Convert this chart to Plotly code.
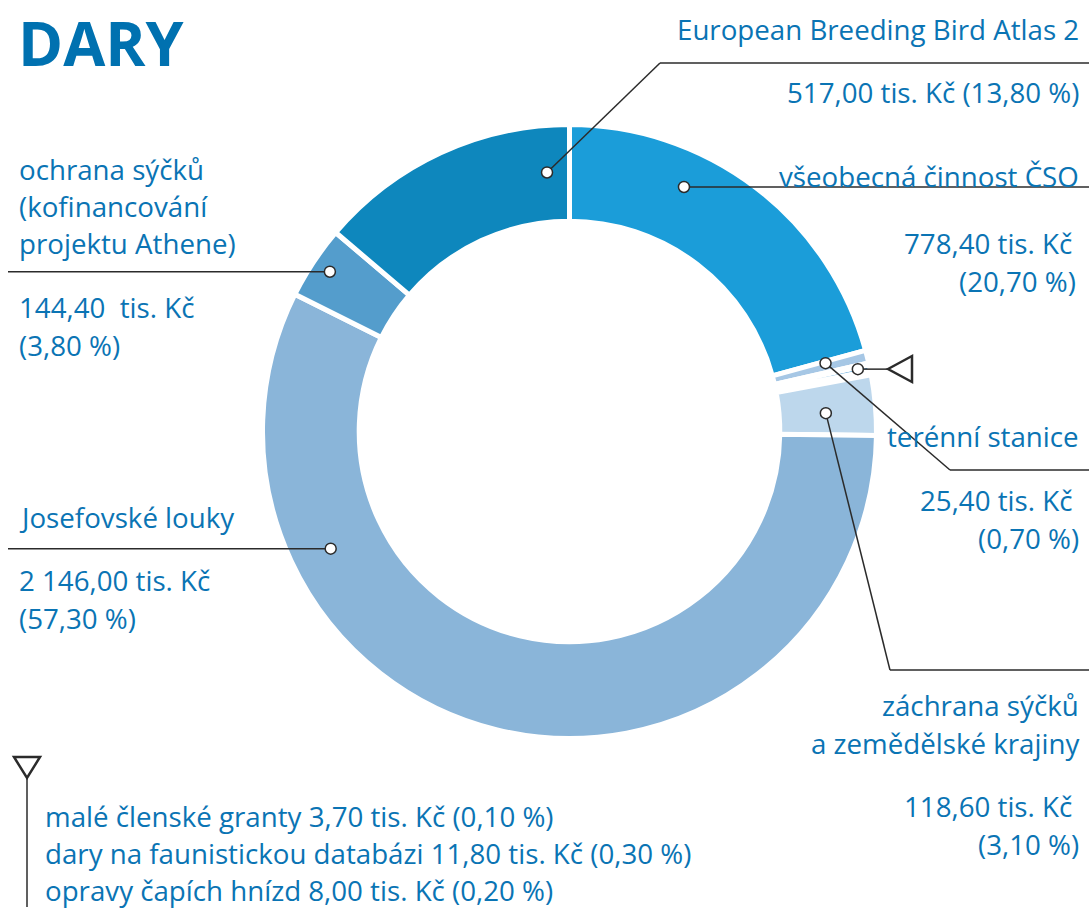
import math
import plotly.graph_objects as go

# ---------------- data ----------------
labels = [
    "všeobecná činnost ČSO",
    "terénní stanice",
    "malé členské granty",
    "dary na faunistickou databázi",
    "opravy čapích hnízd",
    "záchrana sýčků a zemědělské krajiny",
    "Josefovské louky",
    "ochrana sýčků (kofinancování projektu Athene)",
    "European Breeding Bird Atlas 2",
]
values = [778.40, 25.40, 3.70, 11.80, 8.00, 118.60, 2146.00, 144.40, 517.00]  # tis. Kč
percents = [20.70, 0.70, 0.10, 0.30, 0.20, 3.10, 57.30, 3.80, 13.80]
title_text = "DARY"
unit = "tis. Kč"

# ---------------- style ----------------
W, H = 1089, 909
CX, CY, R = 569.5, 431.5, 307.0
HOLE = 0.685
colors = ["#1b9dd9", "#a6c7e5", "#4f9fd5", "#4f9fd5", "#4f9fd5",
          "#bdd7ec", "#8ab5d9", "#549dcc", "#0e87bd"]
TXT = "#0a74b4"
LINE = "#2b2b2b"
FONT = "Open Sans"
FS = 27.7
DY = -2  # vertical text nudge


def px(x):
    return x / W


def py(y):
    return 1 - y / H


def czk(v):
    s = f"{v:,.2f}"
    return s.replace(",", " ").replace(".", ",")


def pct(p):
    return f"{p:.2f}".replace(".", ",") + " %"


total = sum(values)
cum = [0.0]
for v in values:
    cum.append(cum[-1] + v / total * 360.0)


def dot_pos(i0, i1, frac, r):
    a = math.radians(cum[i0] + frac * (cum[i1 + 1] - cum[i0]))
    return CX + r * math.sin(a), CY - r * math.cos(a)


fig = go.Figure()
fig.add_trace(go.Pie(
    values=values, labels=labels, sort=False, direction="clockwise", rotation=0,
    hole=HOLE, textinfo="none", hoverinfo="label+value+percent", showlegend=False,
    marker=dict(colors=colors, line=dict(color="white", width=5)),
    domain=dict(x=[px(CX - R), px(CX + R)], y=[py(CY + R), py(CY - R)]),
))

shapes = []
# callouts: (first slice, last slice, fraction in span, radius, path after dot)
callouts = [
    (8, 8, 0.90, 260, [(660, 63), (1089, 63)]),
    (0, 0, 0.336, 270, [(1089, None)]),
    (1, 1, 0.16, 265, [(950, 470), (1089, 470)]),
    (2, 4, 0.31, 295, [(888, None)]),
    (5, 5, 0.576, 257, [(890, 670), (1089, 670)]),
    (6, 6, 0.744, 266, [(8, None)]),
    (7, 7, 0.515, 288, [(8, None)]),
]
dots = []
for i0, i1, frac, r, path in callouts:
    x, y = dot_pos(i0, i1, frac, r)
    pts = [(x, y)] + [(p[0], y if p[1] is None else p[1]) for p in path]
    for (xa, ya), (xb, yb) in zip(pts[:-1], pts[1:]):
        shapes.append(dict(type="line", xref="paper", yref="paper",
                           x0=px(xa), y0=py(ya), x1=px(xb), y1=py(yb),
                           line=dict(color=LINE, width=1.5)))
    dots.append((x, y))

DR = 5.5
for x, y in dots:
    shapes.append(dict(type="circle", xref="paper", yref="paper",
                       x0=px(x - DR), x1=px(x + DR), y0=py(y + DR), y1=py(y - DR),
                       fillcolor="white", line=dict(color=LINE, width=1.5)))

# triangle markers for the small-items group
def tri(pts):
    d = "M " + " L ".join(f"{px(a)},{py(b)}" for a, b in pts) + " Z"
    return dict(type="path", xref="paper", yref="paper", path=d,
                line=dict(color=LINE, width=2.5), fillcolor="rgba(0,0,0,0)")

shapes.append(tri([(888, 369), (912, 356), (912, 382)]))
shapes.append(tri([(14, 757), (40, 757), (27, 778)]))
shapes.append(dict(type="line", xref="paper", yref="paper",
                   x0=px(27), x1=px(27), y0=py(778), y1=py(907),
                   line=dict(color=LINE, width=1.5)))

ann = []


def text(s, x, y, anchor):
    ann.append(dict(text=s, x=px(x), y=py(y + DY), xref="paper", yref="paper",
                    xanchor=anchor, yanchor="middle", showarrow=False, borderpad=0,
                    font=dict(family=FONT, size=FS, color=TXT)))


def val_line(i):
    return f"{czk(values[i])} {unit} ({pct(percents[i])})"

# right side
text(labels[8], 1080, 31, "right")
text(val_line(8), 1080, 94, "right")
text(labels[0], 1080, 178, "right")
text(f"{czk(values[0])} {unit}", 1073, 245, "right")
text(f"({pct(percents[0])})", 1077, 283, "right")
text(labels[1], 1080, 438, "right")
text(f"{czk(values[1])} {unit}", 1073, 502, "right")
text(f"({pct(percents[1])})", 1080, 540, "right")
text("záchrana sýčků", 1080, 707, "right")
text("a zemědělské krajiny", 1080, 745, "right")
text(f"{czk(values[5])} {unit}", 1073, 808, "right")
text(f"({pct(percents[5])})", 1080, 846, "right")
# left side
text("ochrana sýčků", 18, 171, "left")
text("(kofinancování", 18, 208, "left")
text("projektu Athene)", 18, 245, "left")
text(f"{czk(values[7])}  {unit}", 18, 309, "left")
text(f"({pct(percents[7])})", 18, 347, "left")
text(labels[6], 18, 519, "left")
text(f"{czk(values[6])} {unit}", 18, 582, "left")
text(f"({pct(percents[6])})", 18, 620, "left")
# bottom list
for k, i in enumerate([2, 3, 4]):
    text(f"{labels[i]} {val_line(i)}", 44, 818 + 36.8 * k, "left")

ann.append(dict(text=f"<b>{title_text}</b>", x=px(17), y=1, xref="paper", yref="paper",
                xanchor="left", yanchor="top", showarrow=False, borderpad=0,
                font=dict(family=FONT, size=61, color="#0071b0")))

fig.update_layout(width=W, height=H, margin=dict(l=0, r=0, t=0, b=0),
                  paper_bgcolor="white", plot_bgcolor="white",
                  shapes=shapes, annotations=ann)
fig.write_html("out.html", config={"displayModeBar": False},
               post_script="document.body.style.margin='0';document.body.style.overflow='hidden';")
